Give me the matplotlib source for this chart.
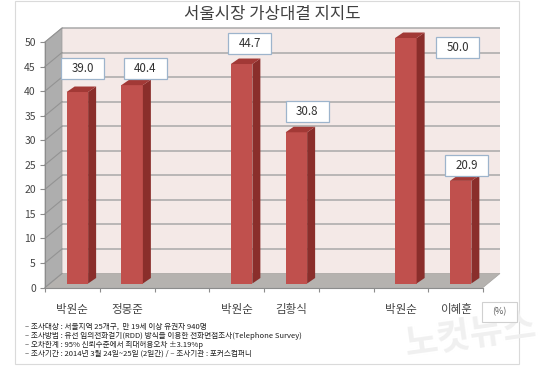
import matplotlib
matplotlib.use("Agg")
import matplotlib.pyplot as plt
from matplotlib.patches import Polygon, Rectangle
import matplotlib.transforms as mtransforms

plt.rcParams['font.family'] = ['Noto Sans CJK KR', 'DejaVu Sans']

# ---------------- data ----------------
title = "서울시장 가상대결 지지도"
candidates = ["박원순", "정몽준", "박원순", "김황식", "박원순", "이혜훈"]
support = [39.0, 40.4, 44.7, 30.8, 50.0, 20.9]
y_ticks = [0, 5, 10, 15, 20, 25, 30, 35, 40, 45, 50]
unit_label = "(%)"
notes = [
    "– 조사대상 : 서울지역 25개구,  만 19세 이상 유권자 940명",
    "– 조사방법 : 유선 임의전화걸기(RDD) 방식을 이용한 전화면접조사(Telephone Survey)",
    "– 오차한계 : 95% 신뢰수준에서 최대허용오차 ±3.19%p",
    "– 조사기간 : 2014년 3월 24일~25일 (2일간) / – 조사기관 : 포커스컴퍼니",
]
watermark = "노컷뉴스"

# ---------------- layout / style ----------------
W, H, DPI = 550, 366, 100
fig = plt.figure(figsize=(W / DPI, H / DPI), dpi=DPI)
fig.patch.set_facecolor("white")

X0, X1 = 45, 483          # front plane, pixel x of first/last slot edge
Y0, Y1 = 287.5, 42        # pixel y (from top) of value 0 / value 50
NSLOT = 8
slots = [g * 3 + j for g in range(3) for j in range(2)]

ax = fig.add_axes([X0 / W, 1 - Y0 / H, (X1 - X0) / W, (Y0 - Y1) / H])
ax.set_xlim(0, NSLOT)
ax.set_ylim(0, 50)
ax.patch.set_visible(False)

ppx = (X1 - X0) / NSLOT
ppy = (Y0 - Y1) / 50.0
DX, DY = 17 / ppx, 14 / ppy            # wall depth
BX, BY = 5 / ppx, 4 / ppy              # bar front plane offset
BW = 21.5 / ppx                        # bar front width
SDX, SDY = 8 / ppx, 5.5 / ppy          # bar depth

wall_c = "#f4e9e7"
floor_c = "#b5b2af"
side_wall_c = "#aeaeae"
grid_c = "#a9a9a9"
front_c = "#c0504d"
side_c = "#8a2e2b"
top_c = "#a23936"
text_c = "#454545"

# outer frame
fig.patches.append(Rectangle((15 / W, 1 - 364 / H), (519 - 15) / W, (364 - 1) / H,
                             transform=fig.transFigure, fill=False,
                             ec="#dadada", lw=0.8, zorder=0))

# back wall
ax.add_patch(Rectangle((DX, DY), NSLOT, 50, fc=wall_c, ec="none", clip_on=False, zorder=0))
# floor
ax.add_patch(Polygon([(0, 0), (NSLOT, 0), (NSLOT + DX, DY), (DX, DY)],
                     closed=True, fc=floor_c, ec="#a5a29f", lw=0.5, clip_on=False, zorder=1))
# left side wall
ax.add_patch(Polygon([(0, 0), (DX, DY), (DX, 50 + DY), (0, 50)],
                     closed=True, fc=side_wall_c, ec="#9a9a9a", lw=0.5, clip_on=False, zorder=1))
# gridlines on back wall and side wall
for t in y_ticks:
    if t > 0:
        ax.plot([DX, NSLOT + DX], [t + DY, t + DY], color=grid_c, lw=1.1,
                clip_on=False, zorder=0.5, solid_capstyle="butt")
    ax.plot([0, DX], [t, t + DY], color="#939393", lw=0.8, clip_on=False, zorder=1.5)

# bars
xcs = [s + 0.5 + BX for s in slots]
ax.bar(xcs, support, width=BW, bottom=BY, color=front_c, edgecolor="none",
       zorder=3, clip_on=False)
for xc, v in zip(xcs, support):
    left = xc - BW / 2
    right = xc + BW / 2
    top = BY + v
    ax.add_patch(Polygon([(right, BY), (right + SDX, BY + SDY), (right + SDX, top + SDY), (right, top)],
                         closed=True, fc=side_c, ec="none", clip_on=False, zorder=3))
    ax.add_patch(Polygon([(left, top), (left + SDX, top + SDY), (right + SDX, top + SDY), (right, top)],
                         closed=True, fc=top_c, ec="none", clip_on=False, zorder=3))

# value labels (boxes)
label_offsets_px = [(5.5, 23.5), (13, 16.6), (8, 20.5), (11, 20.8), (52, -9.5), (6, 15.4)]
box_w, box_h = 43, 21
for xc, v, (ox, oy) in zip(xcs, support, label_offsets_px):
    trans = fig.dpi_scale_trans + mtransforms.ScaledTranslation(xc, BY + v, ax.transData)
    cx, cy = ox / DPI, oy / DPI
    ax.add_patch(Rectangle((cx - box_w / 2 / DPI, cy - box_h / 2 / DPI), box_w / DPI, box_h / DPI,
                           transform=trans, fc="white", ec="#9db4cc", lw=0.9,
                           clip_on=False, zorder=5))
    ax.text(cx, cy, f"{v:.1f}", transform=trans, ha="center", va="center",
            fontsize=8.3, color="#303030", zorder=6, clip_on=False)

# axes spines / ticks
for s in ["top", "right"]:
    ax.spines[s].set_visible(False)
for s in ["left", "bottom"]:
    ax.spines[s].set_color("#8c8c8c")
    ax.spines[s].set_linewidth(0.8)
    ax.spines[s].set_zorder(2)
ax.set_yticks(y_ticks)
ax.set_yticklabels([str(t) for t in y_ticks], fontsize=7.5, color=text_c)
ax.tick_params(axis="y", length=3.6, width=0.8, color="#8c8c8c", pad=3)
ax.set_xticks(range(NSLOT + 1))
ax.set_xticklabels([""] * (NSLOT + 1))
ax.tick_params(axis="x", which="major", length=3, width=0.8, color="#8c8c8c", direction="out")
ax.set_xticks([s + 0.5 for s in slots], minor=True)
ax.set_xticklabels(candidates, minor=True, fontsize=8.3, color=text_c)
ax.tick_params(axis="x", which="minor", length=0, pad=11)

# watermark
fig.text(470 / W, 1 - 335 / H, watermark, ha="center", va="center", fontsize=26,
         color="#f0f0f0", rotation=8, style="italic", fontweight="bold", zorder=0)

# unit box
fig.patches.append(Rectangle((482 / W, 1 - 322 / H), 35 / W, 20 / H, transform=fig.transFigure,
                             fc="white", ec="#d0d0d0", lw=0.8, zorder=2))
fig.text(499.5 / W, 1 - 312 / H, unit_label, ha="center", va="center", fontsize=6.5,
         color="#595959", zorder=3)

# title
fig.text(272 / W, 1 - 14.5 / H, title, ha="center", va="center", fontsize=12, color="#404040")

# notes
for i, line in enumerate(notes):
    fig.text(25 / W, 1 - (327 + 9 * i) / H, line, ha="left", va="center",
             fontsize=5.5, color="#1e1e1e")

fig.savefig("out.png", dpi=DPI)
